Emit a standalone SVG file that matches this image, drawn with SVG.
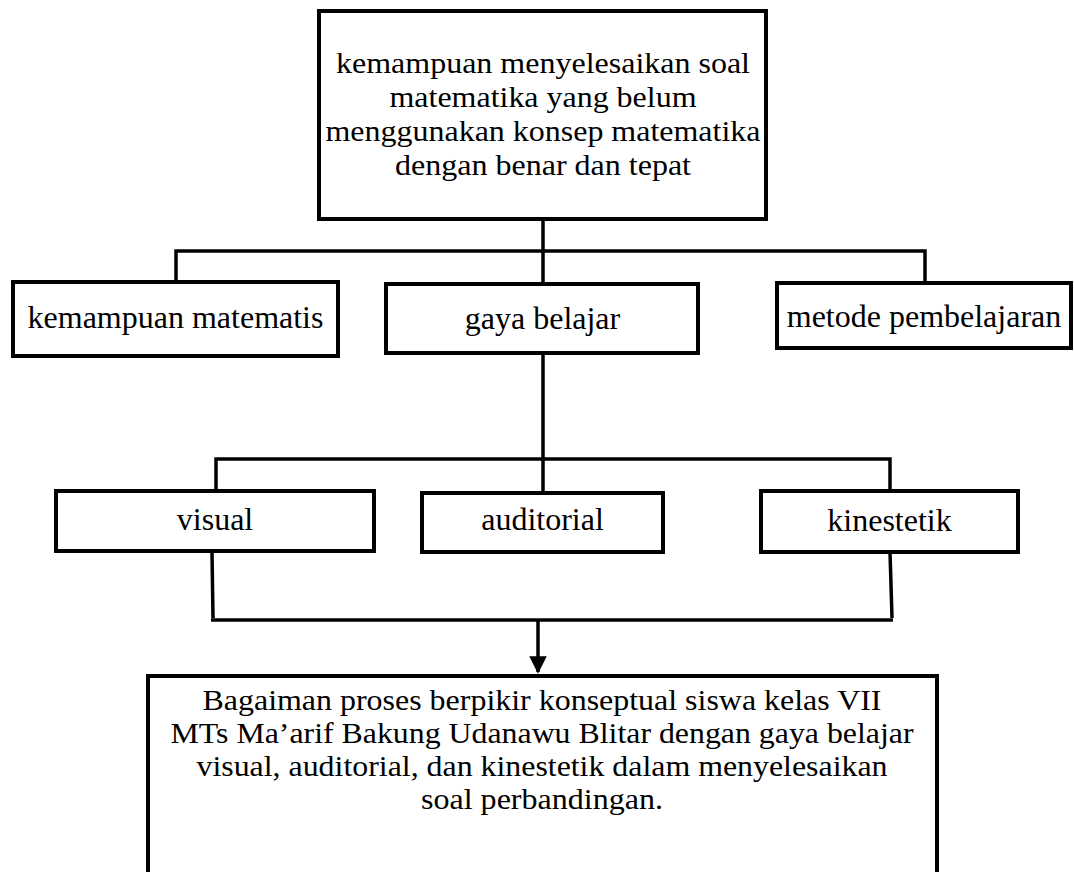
<svg xmlns="http://www.w3.org/2000/svg" width="1074" height="872" viewBox="0 0 1074 872">
<defs>
<style>
.box{fill:#fff;stroke:#000;stroke-width:4}
.ln{fill:none;stroke:#000;stroke-width:3.5}
text{font-family:"Liberation Serif","Times New Roman",serif;font-size:32px;fill:#000;text-anchor:middle}
.t{font-size:30px}
.b{font-size:29.5px}
</style>
<marker id="ah" markerWidth="5" markerHeight="5" refX="4.5" refY="2.5" orient="auto" markerUnits="strokeWidth" viewBox="0 0 5 5">
<path d="M0,0 L5,2.5 L0,5 Z" fill="#000"/>
</marker>
</defs>
<rect width="1074" height="872" fill="#fff"/>
<g id="connectors">
<path class="ln" d="M543,219 V285"/>
<path class="ln" d="M176,282 V251 H925 V283"/>
<path class="ln" d="M543,353 V493"/>
<path class="ln" d="M216,491 V459 H890 V491"/>
<path class="ln" d="M212,552 L213,618"/>
<path class="ln" d="M890,552 L892,618"/>
<path class="ln" d="M211,620 H893"/>
<path class="ln" d="M538,620 V672" marker-end="url(#ah)"/>
</g>
<g id="top">
<rect class="box" x="319" y="11" width="447" height="208"/>
<text class="t" x="543" y="73" textLength="414" lengthAdjust="spacingAndGlyphs">kemampuan menyelesaikan soal</text>
<text class="t" x="543" y="107" textLength="307" lengthAdjust="spacingAndGlyphs">matematika yang belum</text>
<text class="t" x="543" y="141" textLength="435" lengthAdjust="spacingAndGlyphs">menggunakan konsep matematika</text>
<text class="t" x="543" y="175" textLength="296" lengthAdjust="spacingAndGlyphs">dengan benar dan tepat</text>
</g>
<g id="kemampuan">
<rect class="box" x="13" y="282" width="325" height="74"/>
<text x="175.5" y="328">kemampuan matematis</text>
</g>
<g id="gaya">
<rect class="box" x="386" y="284" width="312" height="69"/>
<text x="542.5" y="329">gaya belajar</text>
</g>
<g id="metode">
<rect class="box" x="777" y="283" width="294" height="65"/>
<text x="924" y="327">metode pembelajaran</text>
</g>
<g id="visual">
<rect class="box" x="56" y="491" width="318" height="60"/>
<text x="215" y="530">visual</text>
</g>
<g id="auditorial">
<rect class="box" x="422" y="493" width="241" height="59"/>
<text x="542.5" y="530">auditorial</text>
</g>
<g id="kinestetik">
<rect class="box" x="761" y="491" width="257" height="61"/>
<text x="889.5" y="531">kinestetik</text>
</g>
<g id="bottom">
<rect class="box" x="148" y="676" width="789" height="210"/>
<text class="b" x="542" y="710" textLength="679" lengthAdjust="spacingAndGlyphs">Bagaiman proses berpikir konseptual siswa kelas VII</text>
<text class="b" x="542" y="743" textLength="743" lengthAdjust="spacingAndGlyphs">MTs Ma’arif Bakung Udanawu Blitar dengan gaya belajar</text>
<text class="b" x="542" y="776" textLength="691" lengthAdjust="spacingAndGlyphs">visual, auditorial, dan kinestetik dalam menyelesaikan</text>
<text class="b" x="542" y="809" textLength="242" lengthAdjust="spacingAndGlyphs">soal perbandingan.</text>
</g>
</svg>
